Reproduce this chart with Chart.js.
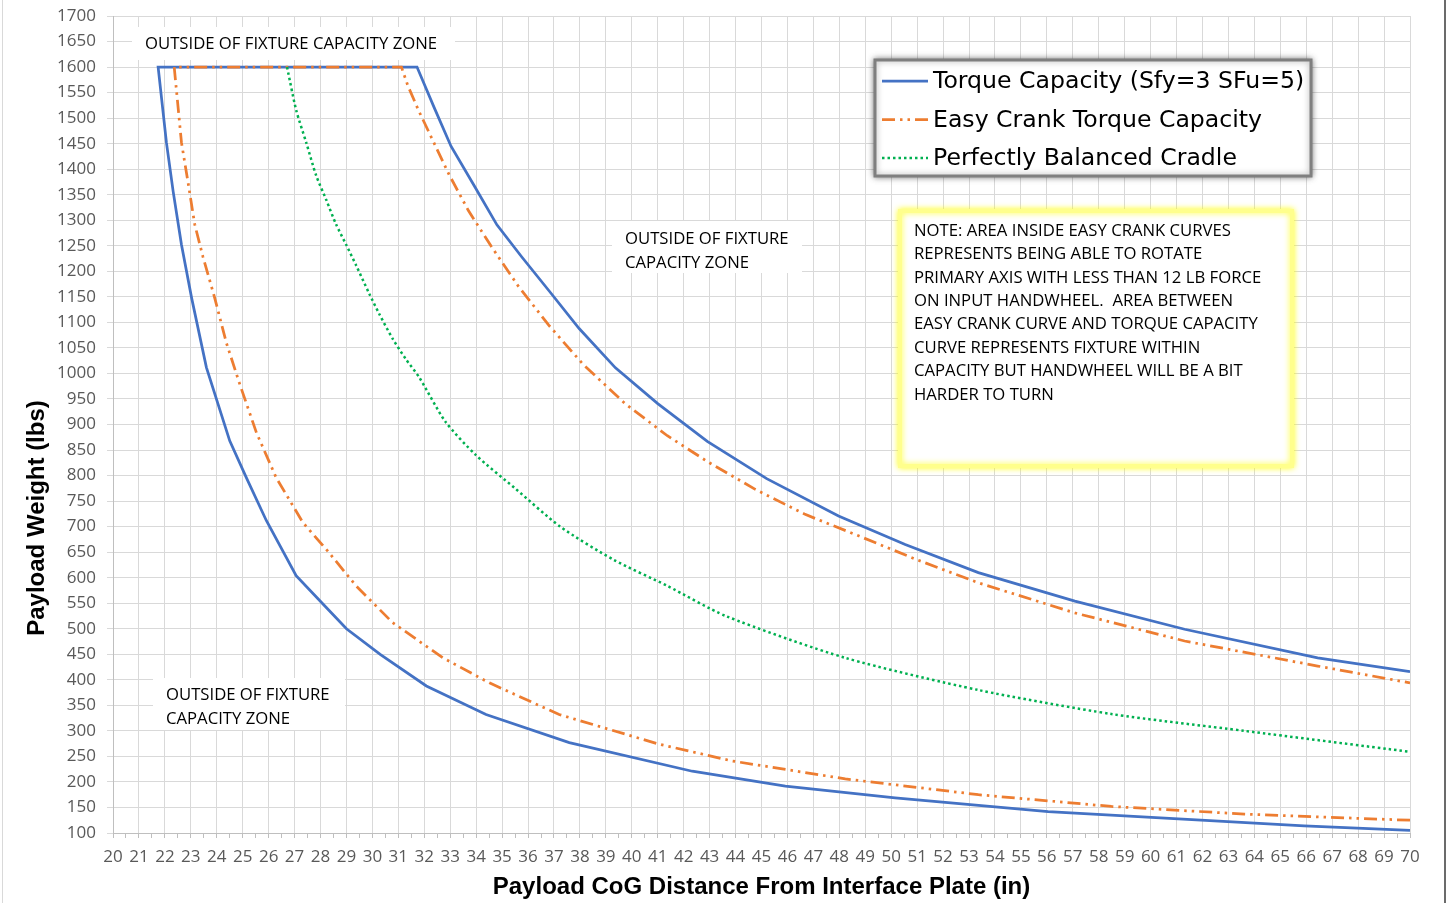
<!DOCTYPE html>
<html>
<head>
<title>Payload Capacity</title>
<script src="https://cdn.jsdelivr.net/npm/chart.js"></script>
<style>
  body { margin: 0; background: #fff; }
  canvas { display: block; }
</style>
</head>
<body>
<canvas id="myChart" width="1453" height="903"></canvas>
<script>
// x = payload CoG distance (in), y = payload weight (lbs)
const torqueLowerX = [21.74, 22.06, 22.32, 22.64, 23.03, 23.6, 24.05, 24.5, 25.14, 25.91, 27.06, 28.03, 29.0, 30.3, 32.08, 34.38, 37.59, 42.33, 45.92, 50.15, 56.05, 65.92, 70];
const torqueLowerY = [1600, 1452, 1356, 1252, 1148, 1012, 940, 868, 796, 712, 604, 552, 500, 450, 388, 332, 277, 221, 192, 169, 142, 114, 105];
const torqueUpperX = [31.72, 32.37, 33.03, 33.92, 34.8, 35.76, 36.87, 37.97, 39.37, 41.0, 42.91, 45.2, 47.97, 50.54, 53.36, 57.08, 61.31, 66.44, 70];
const torqueUpperY = [1600, 1522, 1445, 1368, 1291, 1228, 1158, 1088, 1011, 941, 867, 794, 721, 665, 610, 554, 499, 443, 416];

const easyLowerX = [22.36, 22.64, 22.9, 23.15, 23.47, 23.92, 24.37, 24.88, 25.53, 26.29, 27.32, 28.28, 29.37, 30.78, 32.72, 34.51, 37.2, 41.05, 43.87, 48.23, 53.36, 58.49, 63.62, 70];
const easyLowerY = [1600, 1452, 1372, 1292, 1228, 1148, 1060, 980, 884, 796, 708, 652, 584, 512, 443, 394, 332, 274, 241, 206, 175, 152, 137, 125];
const easyUpperX = [31.12, 31.37, 31.78, 32.37, 32.96, 33.7, 34.58, 35.61, 36.79, 38.12, 39.74, 41.37, 42.99, 44.76, 46.68, 48.74, 50.95, 53.36, 57.08, 61.31, 66.44, 70];
const easyUpperY = [1600, 1563, 1515, 1452, 1389, 1319, 1249, 1172, 1095, 1018, 941, 878, 825, 773, 724, 682, 636, 590, 531, 476, 427, 394];

const balancedX = [26.71, 27.06, 27.45, 27.83, 28.22, 28.6, 28.99, 29.37, 29.88, 30.27, 30.78, 31.29, 31.81, 32.81, 33.99, 35.5, 37.24, 39.3, 41.37, 43.62, 48.23, 53.36, 58.49, 63.62, 70];
const balancedY = [1600, 1516, 1452, 1388, 1340, 1292, 1252, 1212, 1156, 1116, 1068, 1028, 992, 906, 840, 775, 700, 635, 584, 525, 443, 380, 333, 300, 259];

const seriesNames = ['Torque Capacity (Sfy=3 SFu=5)', 'Easy Crank Torque Capacity', 'Perfectly Balanced Cradle'];

const zoneText = 'OUTSIDE OF FIXTURE CAPACITY ZONE';
const zoneTextTwoLines = ['OUTSIDE OF FIXTURE', 'CAPACITY ZONE'];
const noteLines = [
    'NOTE: AREA INSIDE EASY CRANK CURVES',
    'REPRESENTS BEING ABLE TO ROTATE',
    'PRIMARY AXIS WITH LESS THAN 12 LB FORCE',
    'ON INPUT HANDWHEEL.  AREA BETWEEN',
    'EASY CRANK CURVE AND TORQUE CAPACITY',
    'CURVE REPRESENTS FIXTURE WITHIN',
    'CAPACITY BUT HANDWHEEL WILL BE A BIT',
    'HARDER TO TURN'
];

function toPoints(xs, ys) {
    return xs.map((x, i) => ({ x: x, y: ys[i] }));
}
// lower branch walked back up to the 1600 cap, then down the upper branch
function outline(lx, ly, ux, uy) {
    return toPoints(lx, ly).reverse().concat(toPoints(ux, uy));
}

const textFont = '16.7px "Open Sans"';

const pagePlugin = {
    id: 'page',
    beforeDraw(chart) {
        const ctx = chart.ctx;
        ctx.save();
        ctx.fillStyle = '#fff';
        ctx.fillRect(0, 0, chart.width, chart.height);
        ctx.fillStyle = '#d9d9d9';
        ctx.fillRect(2, 0, 1, chart.height);
        ctx.fillStyle = '#6b6b6b';
        ctx.fillRect(1444, 0, 2, chart.height);
        ctx.restore();
    },
    beforeDatasetsDraw(chart) {
        const ctx = chart.ctx;
        ctx.save();
        ctx.fillStyle = '#fff';
        ctx.fillRect(132, 27, 323, 33);
        ctx.fillRect(612, 221, 190, 52);
        ctx.fillRect(153, 678, 192, 52);
        ctx.fillStyle = '#000';
        ctx.font = textFont;
        ctx.textBaseline = 'middle';
        ctx.fillText(zoneText, 145, 44);
        zoneTextTwoLines.forEach((t, i) => ctx.fillText(t, 625, 239 + i * 24));
        zoneTextTwoLines.forEach((t, i) => ctx.fillText(t, 166, 695 + i * 24));
        ctx.restore();
    },
    afterDraw(chart) {
        const ctx = chart.ctx;
        ctx.save();

        // y axis title
        ctx.save();
        ctx.translate(37, 518);
        ctx.rotate(-Math.PI / 2);
        ctx.font = 'bold 24px "Liberation Sans"';
        ctx.fillStyle = '#000';
        ctx.textAlign = 'center';
        ctx.textBaseline = 'middle';
        ctx.fillText('Payload Weight (lbs)', 0, 0);
        ctx.restore();

        // legend
        ctx.save();
        ctx.shadowColor = 'rgba(0,0,0,0.55)';
        ctx.shadowBlur = 6;
        ctx.fillStyle = '#fff';
        ctx.fillRect(875, 60, 436, 116);
        ctx.shadowColor = 'rgba(0,0,0,0.35)';
        ctx.strokeStyle = '#7f7f7f';
        ctx.lineWidth = 3;
        ctx.strokeRect(875, 60, 436, 116);
        ctx.restore();
        chart.data.datasets.forEach((ds, i) => {
            const y = 81 + i * 38.5;
            ctx.beginPath();
            ctx.setLineDash(ds.borderDash || []);
            ctx.strokeStyle = ds.borderColor;
            ctx.lineWidth = ds.borderWidth;
            ctx.moveTo(882, y);
            ctx.lineTo(928, y);
            ctx.stroke();
            ctx.setLineDash([]);
            ctx.fillStyle = '#000';
            ctx.font = '23.6px "DejaVu Sans"';
            ctx.textBaseline = 'middle';
            ctx.fillText(ds.label, 933, y + 1);
        });

        // note box
        ctx.save();
        ctx.shadowColor = 'rgba(255,255,0,0.8)';
        ctx.shadowBlur = 6;
        ctx.fillStyle = '#fff';
        ctx.fillRect(900, 211, 392, 255);
        ctx.strokeStyle = '#ffff8c';
        ctx.lineWidth = 4;
        ctx.strokeRect(900, 211, 392, 255);
        ctx.restore();
        ctx.fillStyle = '#000';
        ctx.font = textFont;
        ctx.textBaseline = 'middle';
        noteLines.forEach((t, i) => ctx.fillText(t, 914, 231 + i * 23.4));

        ctx.restore();
    }
};

const ctx = document.getElementById('myChart').getContext('2d');
const myChart = new Chart(ctx, {
    type: 'scatter',
    data: {
        datasets: [{
            label: seriesNames[0],
            data: outline(torqueLowerX, torqueLowerY, torqueUpperX, torqueUpperY),
            borderColor: '#4472c4',
            borderWidth: 2.75,
            showLine: true,
            pointRadius: 0,
            tension: 0,
            order: 2
        }, {
            label: seriesNames[1],
            data: outline(easyLowerX, easyLowerY, easyUpperX, easyUpperY),
            borderColor: '#ed7d31',
            borderWidth: 2.75,
            borderDash: [13, 5, 2.5, 5, 2.5, 5],
            showLine: true,
            pointRadius: 0,
            tension: 0,
            order: 1
        }, {
            label: seriesNames[2],
            data: toPoints(balancedX, balancedY),
            borderColor: '#00b050',
            borderWidth: 2.5,
            borderDash: [2.5, 3],
            showLine: true,
            pointRadius: 0,
            tension: 0.25,
            order: 0
        }]
    },
    options: {
        responsive: false,
        animation: false,
        devicePixelRatio: 1,
        layout: { padding: { left: 2, top: 16, right: 43, bottom: 0 } },
        plugins: {
            legend: { display: false },
            tooltip: { enabled: false }
        },
        scales: {
            x: {
                type: 'linear',
                min: 20,
                max: 70,
                afterFit: (scale) => { scale.height = 70; },
                ticks: {
                    stepSize: 0.5,
                    autoSkip: false,
                    maxRotation: 0,
                    minRotation: 0,
                    padding: 9,
                    color: '#595959',
                    font: { family: 'Open Sans', size: 17 },
                    callback: (v) => Number.isInteger(v) ? String(v) : ''
                },
                grid: {
                    color: (c) => Number.isInteger(c.tick && c.tick.value) ? '#d9d9d9' : 'rgba(0,0,0,0)',
                    tickColor: '#bfbfbf',
                    tickLength: 5
                },
                border: { color: '#bfbfbf' },
                title: {
                    display: true,
                    text: 'Payload CoG Distance From Interface Plate (in)',
                    color: '#000',
                    font: { family: 'Liberation Sans', size: 24, weight: 'bold' },
                    padding: { top: 0, bottom: 1 }
                }
            },
            y: {
                min: 100,
                max: 1700,
                afterFit: (scale) => {
                    scale.width = 111;
                    scale.paddingTop = 0;
                    scale.paddingBottom = 0;
                },
                ticks: {
                    stepSize: 50,
                    padding: 11,
                    color: '#595959',
                    font: { family: 'Open Sans', size: 17 },
                    callback: (v) => String(v)
                },
                grid: {
                    color: '#d9d9d9',
                    tickColor: '#d9d9d9',
                    tickLength: 6
                },
                border: { color: '#bfbfbf' }
            }
        }
    },
    plugins: [pagePlugin]
});
</script>
</body>
</html>
